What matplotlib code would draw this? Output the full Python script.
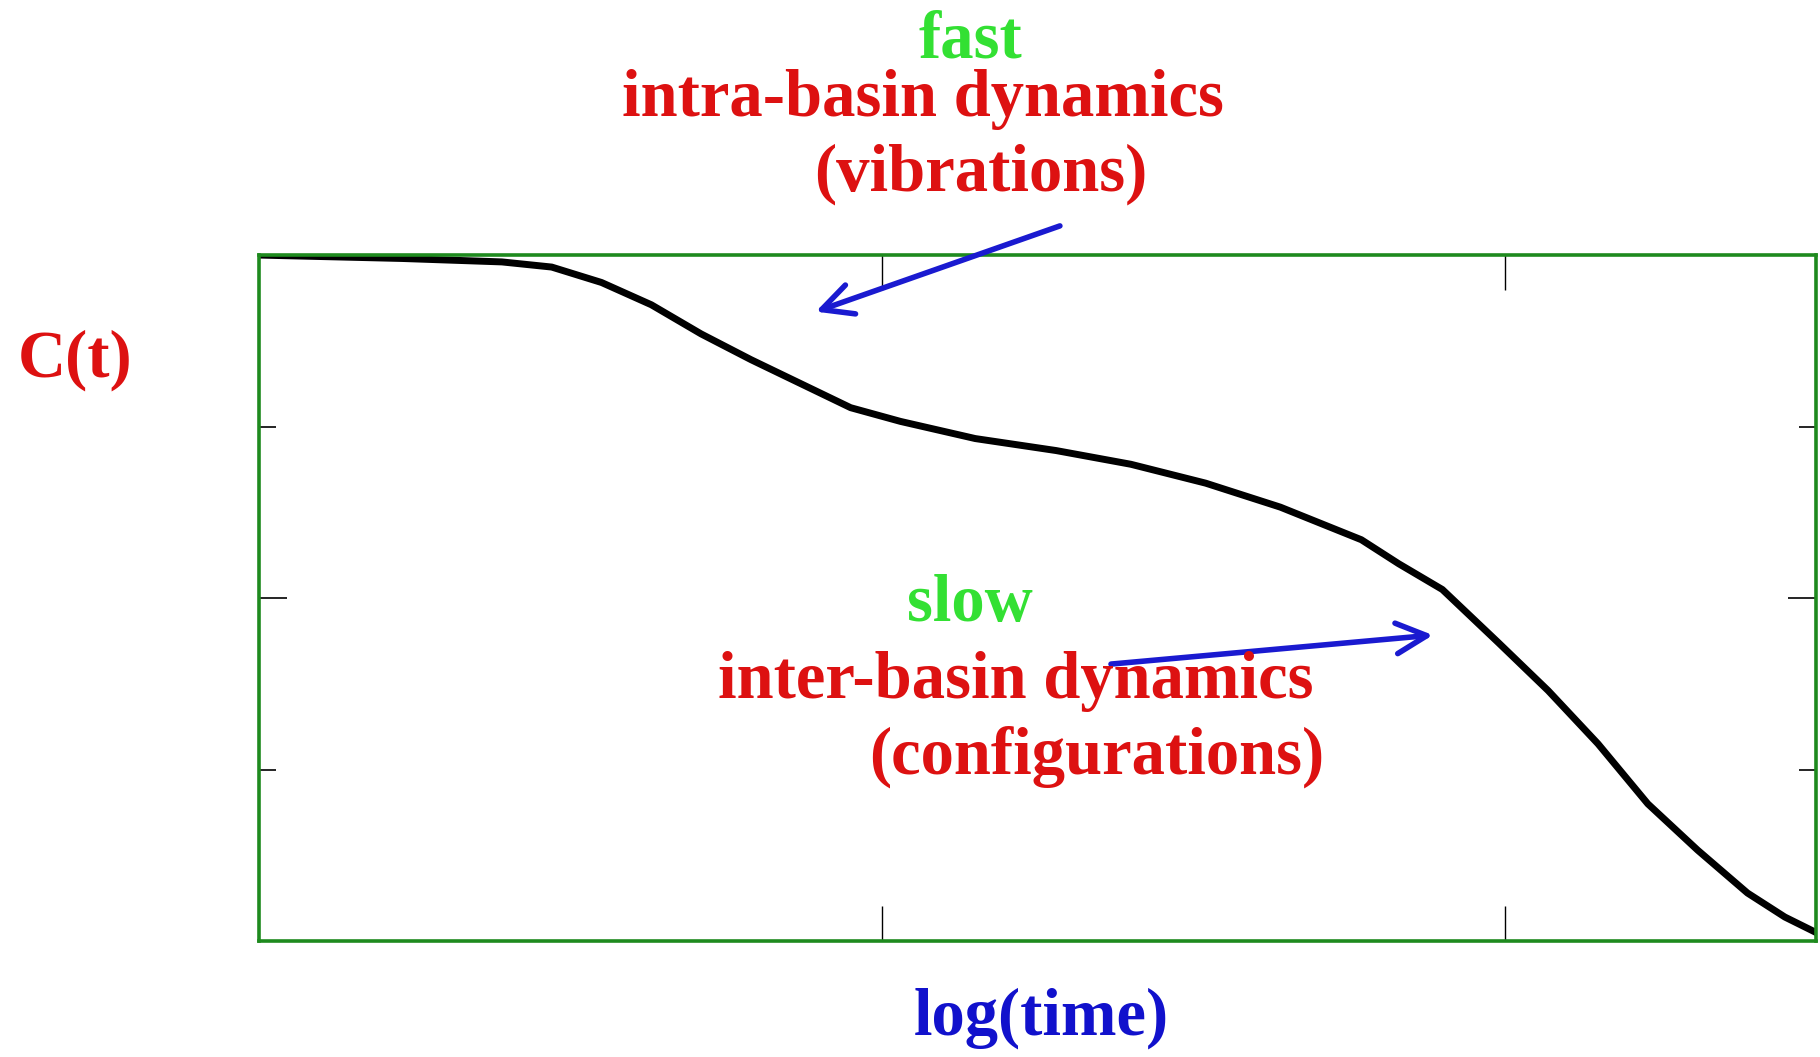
import numpy as np
import matplotlib
matplotlib.use("Agg")
import matplotlib.pyplot as plt
from matplotlib.ticker import FixedLocator

# curve (x = log(time), y = C(t))
log_t = [0, 0.23, 0.39, 0.47, 0.55, 0.63, 0.71, 0.79, 0.87, 0.95, 1.03,
         1.15, 1.28, 1.40, 1.52, 1.64, 1.77, 1.83, 1.90, 1.99, 2.07, 2.15,
         2.23, 2.31, 2.39, 2.45, 2.50]
corr = [4.0, 3.98, 3.96, 3.93, 3.84, 3.71, 3.54, 3.39, 3.25, 3.11, 3.03,
        2.93, 2.86, 2.78, 2.67, 2.53, 2.34, 2.20, 2.05, 1.74, 1.46, 1.15,
        0.80, 0.53, 0.28, 0.14, 0.05]

x_ticks = [1, 2]
y_major = [2]
y_minor = [1, 3]

red = "#dd1111"
green = "#33e033"
blue = "#1111cc"
serif = ["Liberation Serif", "DejaVu Serif"]

fig = plt.figure(figsize=(18.2, 10.57), dpi=100)
ax = fig.add_axes([0.1423, 0.1097, 0.8555, 0.649])

ax.plot(log_t, corr, color="black", lw=5, solid_capstyle="round",
        solid_joinstyle="round")

ax.set_xlim(0, 2.5)
ax.set_ylim(0, 4)
ax.set_xticks(x_ticks)
ax.set_yticks(y_major)
ax.yaxis.set_minor_locator(FixedLocator(y_minor))
ax.tick_params(axis="x", which="major", direction="in", length=25, width=1,
               top=True, bottom=True, labelbottom=False)
ax.tick_params(axis="y", which="major", direction="in", length=20, width=1.2,
               left=True, right=True, labelleft=False)
ax.tick_params(axis="y", which="minor", direction="in", length=12, width=1.2,
               left=True, right=True)
for s in ax.spines.values():
    s.set_color("#1e8a1e")
    s.set_linewidth(2.6)

def ftext(px, py, s, color, size=48):
    fig.text(px / 1820, 1 - py / 1057, s, color=color, fontsize=size,
             family=serif, weight="bold", ha="center", va="center")

ftext(970, 41, "fast", green)
ftext(923, 99, "intra-basin dynamics", red)
ftext(981, 174, "(vibrations)", red)
ftext(75, 360, "C(t)", red)
ftext(970, 604, "slow", green)
ftext(1016, 681, "inter-basin dynamics", red)
ftext(1097, 757, "(configurations)", red)
ftext(1041, 1018, "log(time)", blue)

arrow = dict(arrowstyle="->", color="#1a1ad0", lw=4, mutation_scale=55,
             shrinkA=0, shrinkB=0)
ax.annotate("", xy=(0.894, 3.67), xytext=(1.286, 4.17), arrowprops=arrow,
            annotation_clip=False)
ax.annotate("", xy=(1.885, 1.784), xytext=(1.368, 1.615), arrowprops=arrow,
            annotation_clip=False)

fig.savefig("out.png", dpi=100)
